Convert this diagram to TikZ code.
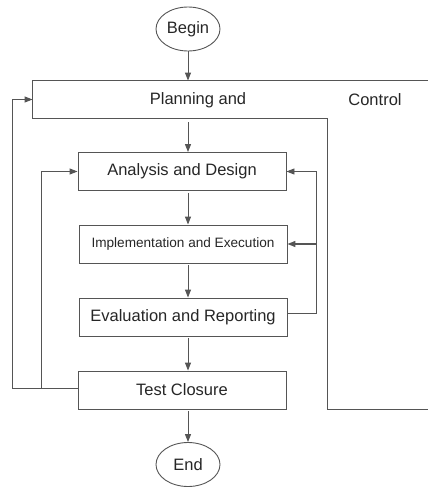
\documentclass[tikz,border=0pt]{standalone}
\usepackage{fontspec}
\setmainfont{Liberation Sans}
\usetikzlibrary{arrows.meta,calc,shapes.geometric}
\definecolor{ln}{HTML}{555555}
\begin{document}
\begin{tikzpicture}[x=1pt,y=-1pt,line width=0.9pt,color=ln,
  lbl/.style={font=\fontsize{16.5}{20}\selectfont,text=black!85},
  box/.style={draw=ln,rectangle,minimum width=208pt,minimum height=38pt,inner sep=0pt,lbl},
  term/.style={draw=ln,ellipse,minimum width=64pt,minimum height=44pt,inner sep=0pt,lbl},
  arr/.style={-{Triangle[length=8pt,width=6pt]},draw=ln}]
\useasboundingbox (0,0) rectangle (428,487);
\node[term] (begin) at (188,29) {Begin};
\node[inner sep=0pt,minimum width=294pt,minimum height=37pt] (pc) at (180,99.5) {};
\node[lbl] (pl) at (198,100) {Planning and};
\node[lbl] (ct) at (375,100) {Control};
\node[box] (ad) at (182,171.5) {Analysis and Design};
\node[box,font=\fontsize{13.6}{16}\selectfont] (ie) at (183,244) {Implementation and Execution};
\node[box] (er) at (183,317) {Evaluation and Reporting};
\node[box] (tc) at (182,390) {Test Closure};
\node[term] (end) at (188,464.5) {End};
\draw[ln] ($(pc.north east)+(101,0)$) -- (pc.north west) -- (pc.south west) -- (pc.south east) -- (pc.south east |- tc.south) -- ++(101,0);
\coordinate (rx) at (316,0);
\coordinate (lx1) at (12,0);
\coordinate (lx2) at (41,0);
\draw[arr] (begin.south) -- (begin |- pc.north);
\draw[arr,shorten <=4pt] (begin |- pc.south) -- (begin |- ad.north);
\draw[arr,shorten <=2pt] (begin |- ad.south) -- (begin |- ie.north);
\draw[arr,shorten <=2pt] (begin |- ie.south) -- (begin |- er.north);
\draw[arr,shorten <=2pt] (begin |- er.south) -- (begin |- tc.north);
\draw[arr,shorten <=2pt] (begin |- tc.south) -- (end.north);
\draw[arr] ($(er.east)+(0,-4)$) -| (rx |- ad.east) -- (ad.east);
\draw[arr,line width=1.3pt] (rx |- ie.east) -- (ie.east);
\draw[arr] ($(tc.west)+(0,-2)$) -- ($(lx1 |- tc.west)+(0,-2)$) -- (lx1 |- pc.west) -- (pc.west);
\draw[arr] ($(lx2 |- tc.west)+(0,-2)$) -- (lx2 |- ad.west) -- (ad.west);
\end{tikzpicture}
\end{document}
